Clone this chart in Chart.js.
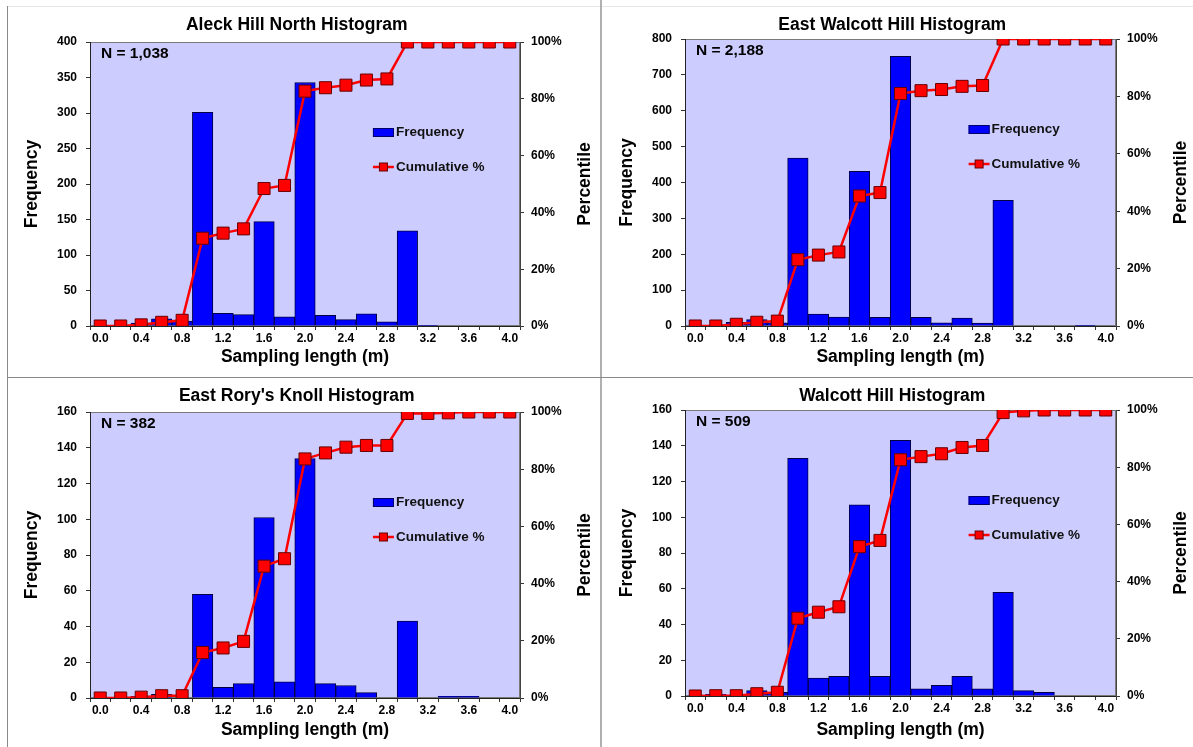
<!DOCTYPE html>
<html>
<head>
<meta charset="utf-8">
<title>Sampling length histograms</title>
<script src="https://cdn.jsdelivr.net/npm/chart.js@4.4.0/dist/chart.umd.min.js"></script>
<style>
  body { margin: 0; background: #fff; }
  #page { position: relative; width: 1193px; height: 747px; overflow: hidden; background: #fff; }
  canvas { position: absolute; }
  .rule { position: absolute; }
</style>
</head>
<body>
<div id="page">
  <div class="rule" style="left:7px;top:6px;width:1px;height:741px;background:#8a8a8a"></div>
  <div class="rule" style="left:8px;top:6px;width:1185px;height:1px;background:#e6e6e6"></div>
  <div class="rule" style="left:600px;top:0;width:2px;height:747px;background:#b0b0b0"></div>
  <div class="rule" style="left:8px;top:377px;width:1185px;height:1px;background:#8a8a8a"></div>
  <canvas id="c1" width="592" height="376" style="left:8px;top:0"></canvas>
  <canvas id="c2" width="590" height="376" style="left:603px;top:0"></canvas>
  <canvas id="c3" width="592" height="369" style="left:8px;top:378px"></canvas>
  <canvas id="c4" width="590" height="369" style="left:603px;top:378px"></canvas>
</div>
<script>
// bin labels (m)
const lengths = ['0.0', '0.2', '0.4', '0.6', '0.8', '1.0', '1.2', '1.4', '1.6', '1.8', '2.0',
                 '2.2', '2.4', '2.6', '2.8', '3.0', '3.2', '3.4', '3.6', '3.8', '4.0'];

// Aleck Hill North
const aleckFreq = [0, 0, 4, 10, 7, 301, 18, 16, 147, 13, 343, 15, 9, 17, 6, 134, 1, 0, 0, 0, 0];
const aleckCum = [0, 0, 0.4, 1.3, 2.0, 30.9, 32.7, 34.2, 48.4, 49.5, 82.7, 83.9, 84.8, 86.6, 87.0, 100, 100, 100, 100, 100, 100];

// East Walcott Hill
const eastWalcottFreq = [0, 0, 10, 18, 9, 468, 33, 25, 431, 24, 752, 24, 9, 22, 8, 350, 0, 0, 0, 2, 0];
const eastWalcottCum = [0, 0, 0.6, 1.3, 1.7, 23.1, 24.7, 25.8, 45.3, 46.5, 81.0, 82.0, 82.4, 83.5, 83.8, 100, 100, 100, 100, 100, 100];

// East Rory's Knoll
const eastRoryFreq = [0, 0, 1, 2, 0, 58, 6, 8, 101, 9, 134, 8, 7, 3, 0, 43, 0, 1, 1, 0, 0];
const eastRoryCum = [0, 0, 0.3, 0.8, 0.8, 15.9, 17.5, 19.8, 46.1, 48.7, 83.6, 85.7, 87.7, 88.3, 88.3, 99.5, 99.5, 99.7, 100, 100, 100];

// Walcott Hill
const walcottFreq = [0, 1, 0, 3, 2, 133, 10, 11, 107, 11, 143, 4, 6, 11, 4, 58, 3, 2, 0, 0, 0];
const walcottCum = [0, 0.1, 0.1, 0.8, 1.3, 27.2, 29.3, 31.2, 52.2, 54.4, 82.6, 83.7, 84.7, 86.9, 87.6, 99.1, 99.7, 100, 100, 100, 100];

Chart.defaults.font.family = '"Liberation Sans", Arial, sans-serif';
Chart.defaults.color = '#000';

const FONT = '"Liberation Sans", Arial, sans-serif';

// plot background, frame, N label, inner legend and right axis title
const panelDecor = {
  id: 'panelDecor',
  beforeDraw(chart) {
    const { ctx, chartArea: a } = chart;
    ctx.save();
    ctx.fillStyle = '#ccccff';
    ctx.fillRect(a.left, a.top, a.right - a.left, a.bottom - a.top);
    ctx.strokeStyle = '#7a7a7a';
    ctx.lineWidth = 1;
    ctx.strokeRect(a.left + 0.5, a.top + 0.5, a.right - a.left - 1, a.bottom - a.top - 1);
    ctx.restore();
  },
  afterDraw(chart, args, opts) {
    const { ctx, chartArea: a } = chart;
    const bars = chart.data.datasets.find(d => d.type === 'bar');
    const cum = chart.data.datasets.find(d => d.type === 'line');
    ctx.save();
    ctx.fillStyle = '#000';
    ctx.textBaseline = 'middle';
    ctx.textAlign = 'left';
    ctx.font = 'bold 15.5px ' + FONT;
    ctx.fillText(opts.nText, a.left + 11, a.top + 12);

    // legend
    const lx = a.left + 0.658 * (a.right - a.left);
    const r1 = a.top + 90, r2 = a.top + 125;
    ctx.fillStyle = bars.backgroundColor;
    ctx.fillRect(lx, r1 - 4, 21, 9);
    ctx.strokeStyle = '#000066';
    ctx.lineWidth = 1;
    ctx.strokeRect(lx + 0.5, r1 - 3.5, 20, 8);
    ctx.strokeStyle = cum.borderColor;
    ctx.lineWidth = 2.5;
    ctx.beginPath();
    ctx.moveTo(lx, r2);
    ctx.lineTo(lx + 21, r2);
    ctx.stroke();
    ctx.fillStyle = cum.pointBackgroundColor;
    ctx.fillRect(lx + 6.5, r2 - 4, 8, 8);
    ctx.strokeStyle = cum.pointBorderColor;
    ctx.lineWidth = 1;
    ctx.strokeRect(lx + 6.5, r2 - 4, 8, 8);
    ctx.fillStyle = '#111';
    ctx.font = 'bold 13.5px ' + FONT;
    ctx.fillText(bars.label, lx + 23, r1);
    ctx.fillText(cum.label, lx + 23, r2);

    // right axis title, reading bottom to top
    ctx.font = 'bold 17.5px ' + FONT;
    ctx.textAlign = 'center';
    ctx.fillStyle = '#000';
    ctx.translate(a.right + 65, (a.top + a.bottom) / 2);
    ctx.rotate(-Math.PI / 2);
    ctx.fillText('Percentile', 0, 0);
    ctx.restore();
  }
};

function makeChart(id, o) {
  const canvas = document.getElementById(id);
  const W = canvas.width, H = canvas.height;
  const plotLeft = 82, plotRight = W === 592 ? 512 : 513;
  const tickFont = { size: 12, weight: 'bold' };
  const axisTitleFont = { size: 17.5, weight: 'bold' };
  const half = 17.5 * 1.2 / 2 + 4;

  return new Chart(canvas, {
    type: 'bar',
    data: {
      labels: lengths,
      datasets: [
        {
          type: 'line',
          label: 'Cumulative %',
          data: o.cum,
          yAxisID: 'y2',
          borderColor: '#ff0000',
          borderWidth: 2.5,
          pointStyle: 'rect',
          pointRadius: 8.5,
          pointBackgroundColor: '#ff0000',
          pointBorderColor: '#660000',
          pointBorderWidth: 1,
          tension: 0,
          order: 0
        },
        {
          type: 'bar',
          label: 'Frequency',
          data: o.freq,
          yAxisID: 'y',
          backgroundColor: '#0000ff',
          borderColor: '#000044',
          borderWidth: 1,
          barPercentage: 1,
          categoryPercentage: 1,
          order: 1
        }
      ]
    },
    options: {
      responsive: false,
      animation: false,
      layout: {
        padding: {
          top: o.titleY - 14.5,
          bottom: H - (o.xTitleY + half),
          left: 24 - half,
          right: W - plotRight - 56
        }
      },
      plugins: {
        legend: { display: false },
        tooltip: { enabled: false },
        title: {
          display: true,
          text: o.title,
          color: '#000',
          font: { size: 17.5, weight: 'bold' },
          padding: { top: 4, bottom: o.plotTop - o.titleY - 10.5 }
        },
        panelDecor: { nText: o.nText }
      },
      scales: {
        x: {
          type: 'category',
          offset: true,
          grid: { drawOnChartArea: false, drawTicks: true, tickLength: 4, color: '#333', offset: true },
          border: { display: true, color: '#222', width: 1 },
          ticks: {
            font: tickFont,
            color: '#000',
            padding: 1,
            autoSkip: false,
            maxRotation: 0,
            callback: (v, i) => (i % 2 === 0 ? lengths[i] : '')
          },
          title: { display: true, text: 'Sampling length (m)', font: axisTitleFont, color: '#000' },
          afterFit: s => { s.height = o.xTitleY + half - o.plotBottom; }
        },
        y: {
          position: 'left',
          min: 0,
          max: o.yMax,
          grid: { drawOnChartArea: false, drawTicks: true, tickLength: 4, color: '#333' },
          border: { display: true, color: '#222', width: 1 },
          ticks: { stepSize: o.yStep, font: tickFont, color: '#000', padding: 9 },
          title: { display: true, text: 'Frequency', font: axisTitleFont, color: '#000' },
          afterFit: s => { s.width = plotLeft - (24 - half); }
        },
        y2: {
          position: 'right',
          min: 0,
          max: 100,
          grid: { drawOnChartArea: false, drawTicks: true, tickLength: 4, color: '#333' },
          border: { display: true, color: '#444', width: 1 },
          ticks: { stepSize: 20, font: tickFont, color: '#000', padding: 7, callback: v => v + '%' },
          afterFit: s => { s.width = 56; }
        }
      }
    },
    plugins: [panelDecor]
  });
}

makeChart('c1', {
  title: 'Aleck Hill North Histogram', nText: 'N = 1,038',
  freq: aleckFreq, cum: aleckCum, yMax: 400, yStep: 50,
  titleY: 25, plotTop: 42, plotBottom: 326, xTitleY: 357
});
makeChart('c2', {
  title: 'East Walcott Hill Histogram', nText: 'N = 2,188',
  freq: eastWalcottFreq, cum: eastWalcottCum, yMax: 800, yStep: 100,
  titleY: 25, plotTop: 39, plotBottom: 326, xTitleY: 357
});
makeChart('c3', {
  title: "East Rory's Knoll Histogram", nText: 'N = 382',
  freq: eastRoryFreq, cum: eastRoryCum, yMax: 160, yStep: 20,
  titleY: 18, plotTop: 34, plotBottom: 320, xTitleY: 352
});
makeChart('c4', {
  title: 'Walcott Hill Histogram', nText: 'N = 509',
  freq: walcottFreq, cum: walcottCum, yMax: 160, yStep: 20,
  titleY: 18, plotTop: 32, plotBottom: 318, xTitleY: 352
});
</script>
</body>
</html>
